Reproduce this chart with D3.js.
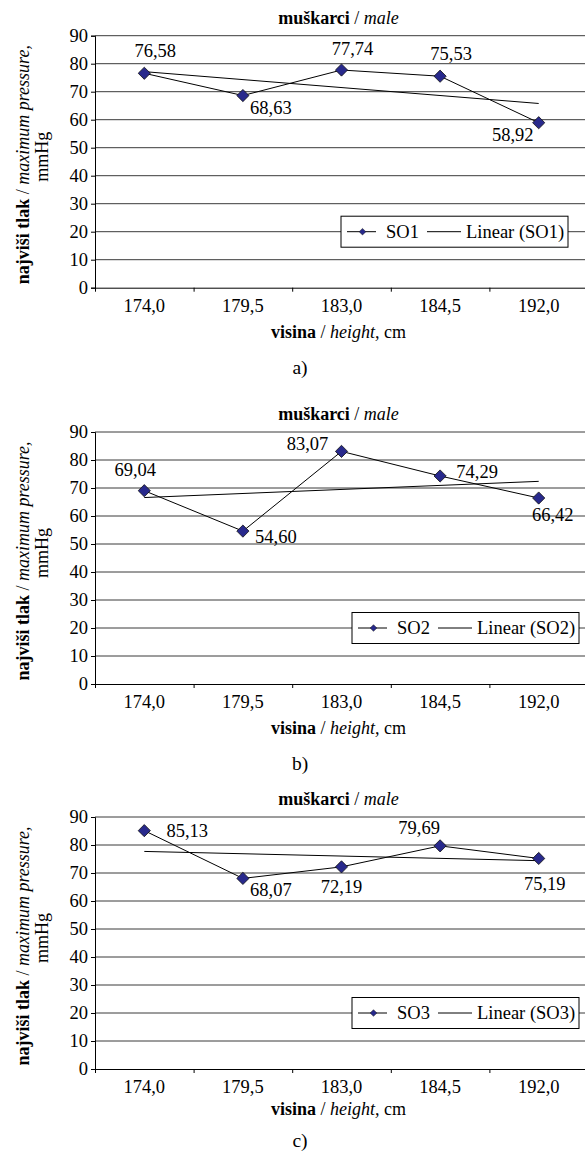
<!DOCTYPE html>
<html>
<head>
<meta charset="utf-8">
<script src="https://cdn.jsdelivr.net/npm/d3@7"></script>
<style>
  body { margin: 0; background: #fff; }
</style>
</head>
<body>
<div class="canvas"></div>
<script>
// data
const categories = ['174,0', '179,5', '183,0', '184,5', '192,0'];
const so1 = [76.58, 68.63, 77.74, 75.53, 58.92];
const so2 = [69.04, 54.60, 83.07, 74.29, 66.42];
const so3 = [85.13, 68.07, 72.19, 79.69, 75.19];
const seriesNames = ['SO1', 'SO2', 'SO3'];
const panelLetters = ['a)', 'b)', 'c)'];
const yTicks = [0, 10, 20, 30, 40, 50, 60, 70, 80, 90];

// where each value label sits relative to its marker (px)
const labelOffsets = [
    [[11, -23], [28, 12], [11, -21], [11, -23], [-26, 12]],
    [[-9, -21], [33, 5], [-34, -8], [37, -4], [14, 17]],
    [[43, 0], [28, 11], [0, 20], [-21, -18], [6, 25]]
];
const legendLeft = [341, 352, 352];
const panelTops = [35.7, 432, 817];
const xTitleY = [302, 302, 298];   // relative to plot top
const letterY = [338, 338, 330];

const dims = {width: 585, height: 1156};
const plot = {left: 95, width: 493, height: 252};
const fontSize = 18.5;
const titleSize = 18;
const serif = '"Liberation Serif", "Times New Roman", Times, serif';
const markerColor = '#28298c';

const svg = d3.select('.canvas')
    .append('svg')
    .attr('width', dims.width)
    .attr('height', dims.height)
    .attr('font-family', serif);

const x = d3.scaleBand()
    .domain(categories)
    .range([0, plot.width]);

const y = d3.scaleLinear()
    .domain([0, 90])
    .range([plot.height, 0]);

const diamond = d3.symbol().type(d3.symbolDiamond2);

// least squares line through the points (Excel "Linear" trendline)
const linearFit = values => {
    const xs = values.map((v, i) => i + 1);
    const mx = d3.mean(xs), my = d3.mean(values);
    const slope = d3.sum(xs, (xi, i) => (xi - mx) * (values[i] - my)) /
                  d3.sum(xs, xi => (xi - mx) * (xi - mx));
    return values.map((v, i) => my + slope * (xs[i] - mx));
};

const fmt = v => v.toFixed(2).replace('.', ',');
const cx = i => x(categories[i]) + x.bandwidth() / 2;

const drawPanel = (values, idx) => {
    const panel = svg.append('g')
        .attr('transform', `translate(0, ${panelTops[idx]})`);

    // title
    const title = panel.append('text')
        .attr('x', plot.left + plot.width / 2 - 3)
        .attr('y', -12)
        .attr('text-anchor', 'middle')
        .attr('font-size', titleSize);
    title.append('tspan').attr('font-weight', 'bold').text('muškarci');
    title.append('tspan').text(' / ');
    title.append('tspan').attr('font-style', 'italic').text('male');

    const graph = panel.append('g')
        .attr('transform', `translate(${plot.left}, 0)`);

    // gridlines
    graph.append('g')
        .selectAll('line')
        .data(yTicks.filter(t => t > 0))
        .enter().append('line')
        .attr('x1', 0)
        .attr('x2', plot.width)
        .attr('y1', d => y(d))
        .attr('y2', d => y(d))
        .attr('stroke', '#3a3a3a')
        .attr('stroke-width', 1);

    // y axis
    const yAxis = graph.append('g')
        .call(d3.axisLeft(y).tickValues(yTicks).tickSize(4).tickPadding(3));
    yAxis.attr('font-family', serif);
    yAxis.select('.domain').attr('stroke', '#000');
    yAxis.selectAll('text')
        .attr('font-size', fontSize)
        .attr('fill', '#000');

    // x axis with ticks between categories
    const xAxis = graph.append('g')
        .attr('transform', `translate(0, ${plot.height})`)
        .call(d3.axisBottom(x).tickSize(0).tickPadding(11));
    xAxis.attr('font-family', serif);
    xAxis.select('.domain').attr('stroke', '#000');
    xAxis.selectAll('text')
        .attr('font-size', fontSize)
        .attr('fill', '#000');
    xAxis.selectAll('.sep')
        .data(categories)
        .enter().append('line')
        .attr('class', 'sep')
        .attr('x1', d => x(d) + 0.5)
        .attr('x2', d => x(d) + 0.5)
        .attr('y1', 0)
        .attr('y2', 4)
        .attr('stroke', '#000');

    // trendline
    const trend = linearFit(values);
    graph.append('line')
        .attr('x1', cx(0))
        .attr('y1', y(trend[0]))
        .attr('x2', cx(values.length - 1))
        .attr('y2', y(trend[trend.length - 1]))
        .attr('stroke', '#000')
        .attr('stroke-width', 1);

    // series line
    const line = d3.line()
        .x((d, i) => cx(i))
        .y(d => y(d));
    graph.append('path')
        .datum(values)
        .attr('d', line)
        .attr('fill', 'none')
        .attr('stroke', '#000')
        .attr('stroke-width', 1);

    // markers
    graph.selectAll('.marker')
        .data(values)
        .enter().append('path')
        .attr('class', 'marker')
        .attr('d', diamond.size(95))
        .attr('transform', (d, i) => `translate(${cx(i)}, ${y(d)})`)
        .attr('fill', markerColor)
        .attr('stroke', '#111')
        .attr('stroke-width', 0.8);

    // value labels
    graph.selectAll('.val')
        .data(values)
        .enter().append('text')
        .attr('class', 'val')
        .attr('x', (d, i) => cx(i) + labelOffsets[idx][i][0])
        .attr('y', (d, i) => y(d) + labelOffsets[idx][i][1])
        .attr('dy', '0.35em')
        .attr('text-anchor', 'middle')
        .attr('font-size', fontSize)
        .text(d => fmt(d));

    // legend
    const lg = panel.append('g')
        .attr('transform', `translate(${legendLeft[idx]}, ${y(20) - 15.5})`);
    lg.append('rect')
        .attr('width', 227)
        .attr('height', 31)
        .attr('fill', '#fff')
        .attr('stroke', '#000');
    lg.append('line')
        .attr('x1', 6).attr('x2', 35)
        .attr('y1', 15.5).attr('y2', 15.5)
        .attr('stroke', '#000');
    lg.append('path')
        .attr('d', diamond.size(28))
        .attr('transform', 'translate(21.5, 15.5)')
        .attr('fill', markerColor)
        .attr('stroke', '#111')
        .attr('stroke-width', 0.5);
    lg.append('text')
        .attr('x', 45).attr('y', 15.5)
        .attr('dy', '0.35em')
        .attr('font-size', fontSize)
        .text(seriesNames[idx]);
    lg.append('line')
        .attr('x1', 86).attr('x2', 120)
        .attr('y1', 15.5).attr('y2', 15.5)
        .attr('stroke', '#000');
    lg.append('text')
        .attr('x', 125).attr('y', 15.5)
        .attr('dy', '0.35em')
        .attr('font-size', fontSize)
        .text(`Linear (${seriesNames[idx]})`);

    // y axis title, two lines
    const cy = plot.height / 2;
    const yt = panel.append('text')
        .attr('transform', `translate(29, ${cy + 3}) rotate(-90)`)
        .attr('text-anchor', 'middle')
        .attr('font-size', titleSize);
    yt.append('tspan').attr('font-weight', 'bold').text('najviši tlak');
    yt.append('tspan').text(' / ');
    yt.append('tspan').attr('font-style', 'italic').text('maximum pressure,');
    panel.append('text')
        .attr('transform', `translate(48, ${cy - 5}) rotate(-90)`)
        .attr('text-anchor', 'middle')
        .attr('font-size', titleSize)
        .text('mmHg');

    // x axis title
    const xt = panel.append('text')
        .attr('x', plot.left + plot.width / 2 - 3)
        .attr('y', xTitleY[idx])
        .attr('text-anchor', 'middle')
        .attr('font-size', titleSize);
    xt.append('tspan').attr('font-weight', 'bold').text('visina');
    xt.append('tspan').text(' / ');
    xt.append('tspan').attr('font-style', 'italic').text('height,');
    xt.append('tspan').text(' cm');

    // panel letter
    panel.append('text')
        .attr('x', 300)
        .attr('y', letterY[idx])
        .attr('text-anchor', 'middle')
        .attr('font-size', fontSize + 1)
        .text(panelLetters[idx]);
};

[so1, so2, so3].forEach(drawPanel);
</script>
</body>
</html>
